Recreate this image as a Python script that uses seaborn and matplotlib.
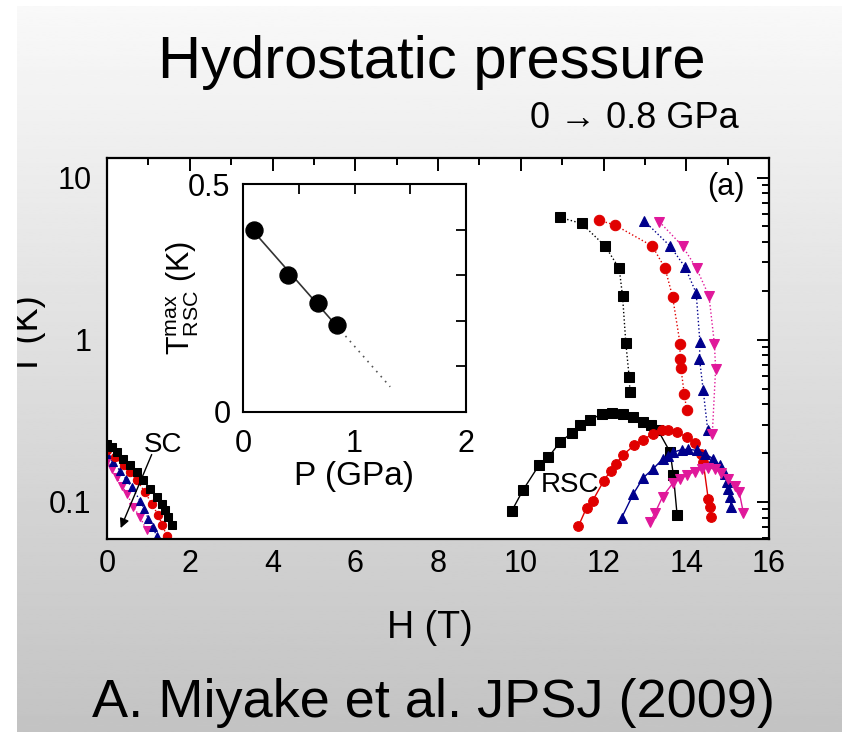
import numpy as np
import pandas as pd
import matplotlib
matplotlib.use("Agg")
import matplotlib.pyplot as plt
from matplotlib.patches import Rectangle
from matplotlib.ticker import FixedLocator, FixedFormatter, LogLocator, NullFormatter, MultipleLocator
import seaborn as sns

sns.set_theme(style="white")
plt.rcParams["font.family"] = ["Liberation Sans", "DejaVu Sans"]
plt.rcParams["mathtext.fontset"] = "custom"
plt.rcParams["mathtext.rm"] = "Liberation Sans"
plt.rcParams["mathtext.it"] = "Liberation Sans"
for key in ["text.color", "axes.labelcolor", "xtick.color", "ytick.color"]:
    plt.rcParams[key] = "black"

# ---------------- data ----------------
pressures = ["0 GPa", "0.4 GPa", "0.67 GPa", "0.84 GPa"]
colors = ["#000000", "#e00000", "#00008c", "#e0189a"]
markers = ["s", "o", "^", "v"]

# high-field boundary (dotted)
H_up_0 = [10.95, 11.47, 12.04, 12.38, 12.46, 12.54, 12.62, 12.64]
T_up_0 = [5.68, 5.21, 3.78, 2.75, 1.86, 0.955, 0.589, 0.476]
H_up_1 = [11.88, 12.28, 13.18, 13.49, 13.67, 13.85, 13.85, 13.87, 13.95, 14.01]
T_up_1 = [5.47, 5.09, 3.78, 2.75, 1.84, 0.947, 0.765, 0.673, 0.466, 0.371]
H_up_2 = [12.99, 13.61, 13.97, 14.24, 14.33, 14.32, 14.41, 14.52]
T_up_2 = [5.39, 3.78, 2.81, 1.94, 0.97, 0.765, 0.488, 0.276]
H_up_3 = [13.35, 13.91, 14.25, 14.55, 14.68, 14.71, 14.63]
T_up_3 = [5.34, 3.78, 2.75, 1.86, 0.948, 0.664, 0.264]

# re-entrant superconductivity (solid)
H_rsc_0 = [9.78, 10.06, 10.45, 10.67, 10.95, 11.23, 11.43, 11.67, 11.96, 12.20,
           12.48, 12.72, 12.96, 13.16, 13.32, 13.61, 13.69, 13.78]
T_rsc_0 = [0.0878, 0.119, 0.170, 0.189, 0.234, 0.266, 0.300, 0.319, 0.350, 0.355,
           0.350, 0.334, 0.311, 0.297, 0.276, 0.203, 0.146, 0.0826]
H_rsc_1 = [11.39, 11.59, 11.74, 12.00, 12.17, 12.30, 12.48, 12.74, 12.96, 13.20,
           13.41, 13.56, 13.77, 14.01, 14.21, 14.35, 14.41, 14.53, 14.57, 14.60]
T_rsc_1 = [0.0706, 0.092, 0.102, 0.134, 0.156, 0.172, 0.196, 0.223, 0.242, 0.264,
           0.276, 0.279, 0.270, 0.251, 0.231, 0.198, 0.176, 0.105, 0.093, 0.081]
H_rsc_2 = [12.44, 12.72, 12.96, 13.20, 13.44, 13.56, 13.69, 13.89, 14.05, 14.25,
           14.45, 14.65, 14.81, 14.93, 14.99, 15.01, 15.05, 15.09]
T_rsc_2 = [0.080, 0.112, 0.141, 0.160, 0.185, 0.192, 0.203, 0.210, 0.211, 0.208,
           0.198, 0.185, 0.168, 0.149, 0.132, 0.121, 0.107, 0.093]
H_rsc_3 = [13.12, 13.24, 13.43, 13.67, 13.85, 14.01, 14.21, 14.37, 14.53, 14.69,
           14.85, 15.01, 15.17, 15.28, 15.38]
T_rsc_3 = [0.075, 0.085, 0.108, 0.130, 0.139, 0.146, 0.154, 0.160, 0.163, 0.159,
           0.151, 0.139, 0.125, 0.115, 0.086]

# low-field superconductivity
H_sc_0 = [0.0, 0.11, 0.23, 0.39, 0.56, 0.72, 0.88, 1.04, 1.20, 1.32, 1.40, 1.48, 1.56]
T_sc_0 = [0.229, 0.218, 0.203, 0.185, 0.168, 0.153, 0.136, 0.121, 0.107, 0.0975, 0.0886, 0.0805, 0.0716]
H_sc_1 = [0.0, 0.20, 0.40, 0.56, 0.72, 0.92, 1.08, 1.24, 1.34, 1.44]
T_sc_1 = [0.208, 0.188, 0.168, 0.152, 0.136, 0.115, 0.0975, 0.0826, 0.072, 0.062]
H_sc_2 = [0.0, 0.15, 0.31, 0.45, 0.60, 0.80, 0.90, 1.00, 1.10, 1.20]
T_sc_2 = [0.198, 0.176, 0.156, 0.139, 0.123, 0.102, 0.090, 0.0787, 0.070, 0.062]
H_sc_3 = [0.0, 0.12, 0.23, 0.36, 0.48, 0.64, 0.80, 0.96]
T_sc_3 = [0.180, 0.160, 0.142, 0.126, 0.112, 0.093, 0.0805, 0.0667]

# inset: maximum RSC temperature vs pressure
P_inset = [0.1, 0.4, 0.67, 0.84]
Tmax_inset = [0.40, 0.30, 0.24, 0.19]
P_extrap_end = 1.32

x_ticks = [0, 2, 4, 6, 8, 10, 12, 14, 16]
y_ticks = [0.1, 1, 10]
y_ticklabels = ["0.1", "1", "10"]

# ---------------- figure ----------------
FW, FH = 842, 732
fig = plt.figure(figsize=(FW / 100, FH / 100), dpi=100)
fig.patch.set_facecolor("white")

def fx(px):
    return px / FW

def fy(py):
    return 1 - py / FH

# grey gradient backdrop
bg = fig.add_axes([fx(17), 0, 1 - fx(17), fy(6)], zorder=-10)
grad = np.linspace(0.975, 0.765, 256).reshape(-1, 1)
bg.imshow(grad, aspect="auto", cmap="gray", vmin=0, vmax=1, extent=[0, 1, 0, 1], origin="upper")
bg.set_axis_off()

ax = fig.add_axes([fx(107), fy(539), fx(769) - fx(107), fy(158) - fy(539)])
ax.set_facecolor("white")

H_up = [H_up_0, H_up_1, H_up_2, H_up_3]
T_up = [T_up_0, T_up_1, T_up_2, T_up_3]
H_rsc = [H_rsc_0, H_rsc_1, H_rsc_2, H_rsc_3]
T_rsc = [T_rsc_0, T_rsc_1, T_rsc_2, T_rsc_3]
H_sc = [H_sc_0, H_sc_1, H_sc_2, H_sc_3]
T_sc = [T_sc_0, T_sc_1, T_sc_2, T_sc_3]

for i in range(4):
    c, m = colors[i], markers[i]
    sns.lineplot(x=H_up[i], y=T_up[i], ax=ax, sort=False, estimator=None,
                 color=c, marker=m, markersize=7.5, markeredgecolor=c,
                 linestyle=":", linewidth=1.0)
    sns.lineplot(x=H_rsc[i], y=T_rsc[i], ax=ax, sort=False, estimator=None,
                 color=c, marker=m, markersize=7, markeredgecolor=c,
                 linestyle="-", linewidth=1.0)
for i in [3, 2, 1, 0]:
    c, m = colors[i], markers[i]
    sns.lineplot(x=H_sc[i], y=T_sc[i], ax=ax, sort=False, estimator=None,
                 color=c, marker=m, markersize=6, markeredgecolor=c,
                 linestyle=":", linewidth=1.0)

ax.set_yscale("log")
ax.set_xlim(0, 16)
ax.set_ylim(0.0591, 13.2)
ax.xaxis.set_major_locator(FixedLocator(x_ticks))
ax.xaxis.set_minor_locator(MultipleLocator(1))
ax.yaxis.set_major_locator(FixedLocator(y_ticks))
ax.yaxis.set_major_formatter(FixedFormatter(y_ticklabels))
ax.yaxis.set_minor_locator(LogLocator(base=10, subs=np.arange(2, 10)))
ax.yaxis.set_minor_formatter(NullFormatter())
ax.tick_params(which="both", direction="in", top=True, right=True, colors="black",
               width=1.4)
ax.tick_params(which="major", length=9, labelsize=22)
ax.tick_params(which="minor", length=5)
ax.tick_params(axis="x", which="major", pad=7)
ax.tick_params(axis="y", which="major", pad=11)
for s in ax.spines.values():
    s.set_color("black")
    s.set_linewidth(1.6)
ax.set_xlabel("")
ax.set_ylabel("")

ax.text(0.935, 0.923, "(a)", transform=ax.transAxes, fontsize=22, ha="center", va="center")
ax.text(11.2, 0.128, "RSC", fontsize=20, ha="center", va="center")
ax.text(1.35, 0.225, "SC", fontsize=20, ha="center", va="center")
ax.annotate("", xy=(0.33, 0.069), xytext=(1.08, 0.196),
            arrowprops=dict(arrowstyle="-|>", color="black", lw=1.0,
                            mutation_scale=14, shrinkA=0, shrinkB=0))

# inset
ins = fig.add_axes([fx(243), fy(412), fx(466) - fx(243), fy(184) - fy(412)])
ins.set_facecolor("white")
slope, icpt = np.polyfit(P_inset, Tmax_inset, 1)
p_solid = np.array([P_inset[0], P_inset[-1]])
p_dot = np.array([P_inset[-1], P_extrap_end])
sns.lineplot(x=p_solid, y=slope * p_solid + icpt, ax=ins, color="#333333", linewidth=1.2)
sns.lineplot(x=p_dot, y=slope * p_dot + icpt, ax=ins, color="#555555", linewidth=1.2,
             linestyle=(0, (1, 3)))
sns.scatterplot(x=P_inset, y=Tmax_inset, ax=ins, color="black", s=150, edgecolor="black",
                zorder=5)
ins.set_xlim(0, 2)
ins.set_ylim(0, 0.5)
ins.xaxis.set_major_locator(FixedLocator([0, 1, 2]))
ins.xaxis.set_major_formatter(FixedFormatter(["0", "1", "2"]))
ins.xaxis.set_minor_locator(MultipleLocator(0.5))
ins.yaxis.set_major_locator(FixedLocator([0, 0.5]))
ins.yaxis.set_major_formatter(FixedFormatter(["0", "0.5"]))
ins.yaxis.set_minor_locator(MultipleLocator(0.1))
ins.tick_params(which="both", direction="in", top=True, right=True, colors="black", width=1.3)
ins.tick_params(which="major", length=7, labelsize=22)
ins.tick_params(which="minor", length=7)
ins.tick_params(axis="x", which="major", pad=12)
ins.tick_params(axis="y", which="major", pad=9)
for s in ins.spines.values():
    s.set_color("black")
    s.set_linewidth(1.5)
ins.set_xlabel("P (GPa)", fontsize=24, labelpad=2)
ins.set_ylabel(r"$\mathrm{T}^{\mathrm{max}}_{\mathrm{RSC}}$ (K)", fontsize=22)
ins.yaxis.set_label_coords(-0.19, 0.50)

# figure texts
fig.text(fx(432), fy(62), "Hydrostatic pressure", fontsize=43, ha="center", va="center")
fig.text(fx(634), fy(118), "0 \u2192 0.8 GPa", fontsize=26, ha="center", va="center")
fig.text(fx(430), fy(628), "H (T)", fontsize=27, ha="center", va="center")
fig.text(fx(29), fy(335), "T (K)", fontsize=26, ha="center", va="center", rotation=90, zorder=5)
fig.text(fx(433), fy(703), "A. Miyake et al. JPSJ (2009)", fontsize=39, ha="center", va="center")

# white margin strip on the left
fig.add_artist(Rectangle((0, 0), fx(17), 1, transform=fig.transFigure,
                         facecolor="white", edgecolor="none", zorder=20))

fig.savefig("out.png", dpi=100)
